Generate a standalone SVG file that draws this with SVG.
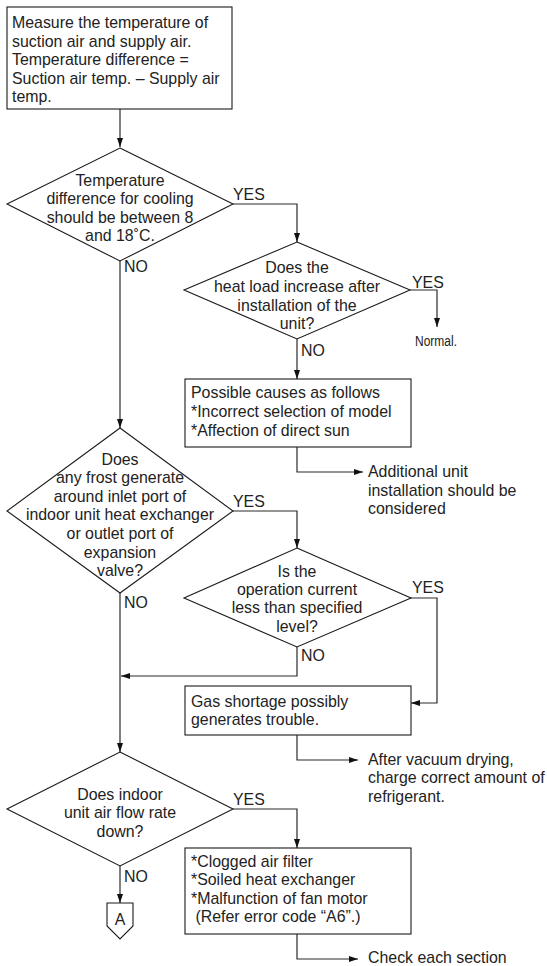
<svg xmlns="http://www.w3.org/2000/svg" width="547" height="966" viewBox="0 0 547 966">
  <style>
    .shape { fill: #ffffff; stroke: #1a1a1a; stroke-width: 1.1; }
    .wire { fill: none; stroke: #2a2a2a; stroke-width: 1.2; }
    text { font-family: "Liberation Sans", Arial, Helvetica, sans-serif; font-size: 15.9px; fill: #222222; }
    .c { text-anchor: middle; }
    .note { font-size: 14px; }
  </style>
  <defs>
    <marker id="arrow" markerUnits="userSpaceOnUse" markerWidth="9" markerHeight="6" refX="9" refY="3" orient="auto">
      <path d="M0,0 L9,3 L0,6 z" fill="#111111"/>
    </marker>
  </defs>

  <rect width="547" height="966" fill="#ffffff"/>

  <!-- connectors -->
  <g id="connectors">
    <path class="wire" d="M120,109 V147" marker-end="url(#arrow)"/>
    <path class="wire" d="M233,204 H297 V242" marker-end="url(#arrow)"/>
    <path class="wire" d="M120,261 V428" marker-end="url(#arrow)"/>
    <path class="wire" d="M410,290 H437 V327" marker-end="url(#arrow)"/>
    <path class="wire" d="M297,339 V379" marker-end="url(#arrow)"/>
    <path class="wire" d="M297,447 V472 H363" marker-end="url(#arrow)"/>
    <path class="wire" d="M233,511 H297 V548" marker-end="url(#arrow)"/>
    <path class="wire" d="M120,593 V752" marker-end="url(#arrow)"/>
    <path class="wire" d="M411,598 H437 V703 H411" marker-end="url(#arrow)"/>
    <path class="wire" d="M297,647 V676 H121" marker-end="url(#arrow)"/>
    <path class="wire" d="M297,735 V760 H358" marker-end="url(#arrow)"/>
    <path class="wire" d="M233,809 H297 V848" marker-end="url(#arrow)"/>
    <path class="wire" d="M120,866 V903" marker-end="url(#arrow)"/>
    <path class="wire" d="M297,934 V959 H358" marker-end="url(#arrow)"/>
  </g>

  <!-- branch labels -->
  <g id="labels">
    <text x="233" y="200">YES</text>
    <text x="124" y="272">NO</text>
    <text x="412" y="288">YES</text>
    <text x="301" y="356">NO</text>
    <text x="233" y="507">YES</text>
    <text x="124" y="608">NO</text>
    <text x="412" y="593">YES</text>
    <text x="301" y="661">NO</text>
    <text x="233" y="805">YES</text>
    <text x="124" y="882">NO</text>
  </g>

  <g id="measure">
    <rect class="shape" x="7" y="7" width="225" height="102"/>
    <text x="12" y="28">Measure the temperature of</text>
    <text x="12" y="47">suction air and supply air.</text>
    <text x="12" y="65">Temperature difference =</text>
    <text x="12" y="84">Suction air temp. – Supply air</text>
    <text x="12" y="102">temp.</text>
  </g>

  <g id="check-difference">
    <polygon class="shape" points="120,148 233,204 120,261 7,204"/>
    <text class="c" x="120" y="186">Temperature</text>
    <text class="c" x="120" y="204">difference for cooling</text>
    <text class="c" x="120" y="223">should be between 8</text>
    <text class="c" x="120" y="241">and 18˚C.</text>
  </g>

  <g id="check-heat-load">
    <polygon class="shape" points="297,242 410,290 297,339 184,290"/>
    <text class="c" x="297" y="273">Does the</text>
    <text class="c" x="297" y="292">heat load increase after</text>
    <text class="c" x="297" y="311">installation of the</text>
    <text class="c" x="297" y="329">unit?</text>
  </g>

  <g id="normal">
    <text class="note" x="415" y="346" textLength="42" lengthAdjust="spacingAndGlyphs">Normal.</text>
  </g>

  <g id="possible-causes">
    <rect class="shape" x="185" y="379" width="226" height="68"/>
    <text x="191" y="398">Possible causes as follows</text>
    <text x="191" y="417">*Incorrect selection of model</text>
    <text x="191" y="436">*Affection of direct sun</text>
  </g>

  <g id="additional-unit">
    <text x="368" y="477">Additional unit</text>
    <text x="368" y="496">installation should be</text>
    <text x="368" y="514">considered</text>
  </g>

  <g id="check-frost">
    <polygon class="shape" points="120,428 233,511 120,593 7,511"/>
    <text class="c" x="120" y="465">Does</text>
    <text class="c" x="120" y="483">any frost generate</text>
    <text class="c" x="120" y="502">around inlet port of</text>
    <text class="c" x="120" y="520">indoor unit heat exchanger</text>
    <text class="c" x="120" y="539">or outlet port of</text>
    <text class="c" x="120" y="558">expansion</text>
    <text class="c" x="120" y="576">valve?</text>
  </g>

  <g id="check-current">
    <polygon class="shape" points="297,548 411,598 297,647 184,598"/>
    <text class="c" x="297" y="577">Is the</text>
    <text class="c" x="297" y="595">operation current</text>
    <text class="c" x="297" y="613">less than specified</text>
    <text class="c" x="297" y="632">level?</text>
  </g>

  <g id="gas-shortage">
    <rect class="shape" x="185" y="686" width="226" height="49"/>
    <text x="191" y="707">Gas shortage possibly</text>
    <text x="191" y="725">generates trouble.</text>
  </g>

  <g id="recharge">
    <text x="368" y="765">After vacuum drying,</text>
    <text x="368" y="783">charge correct amount of</text>
    <text x="368" y="802">refrigerant.</text>
  </g>

  <g id="check-airflow">
    <polygon class="shape" points="120,752 233,809 120,866 7,809"/>
    <text class="c" x="120" y="800">Does indoor</text>
    <text class="c" x="120" y="818">unit air flow rate</text>
    <text class="c" x="120" y="837">down?</text>
  </g>

  <g id="connector-a">
    <polygon class="shape" points="107,903 133,903 133,926 120,939 107,926"/>
    <text class="c" x="120" y="925">A</text>
  </g>

  <g id="airflow-causes">
    <rect class="shape" x="185" y="848" width="226" height="86"/>
    <text x="191" y="867">*Clogged air filter</text>
    <text x="191" y="885">*Soiled heat exchanger</text>
    <text x="191" y="904">*Malfunction of fan motor</text>
    <text x="191" y="922" xml:space="preserve"> (Refer error code “A6”.)</text>
  </g>

  <g id="check-sections">
    <text x="368" y="963">Check each section</text>
  </g>
</svg>
